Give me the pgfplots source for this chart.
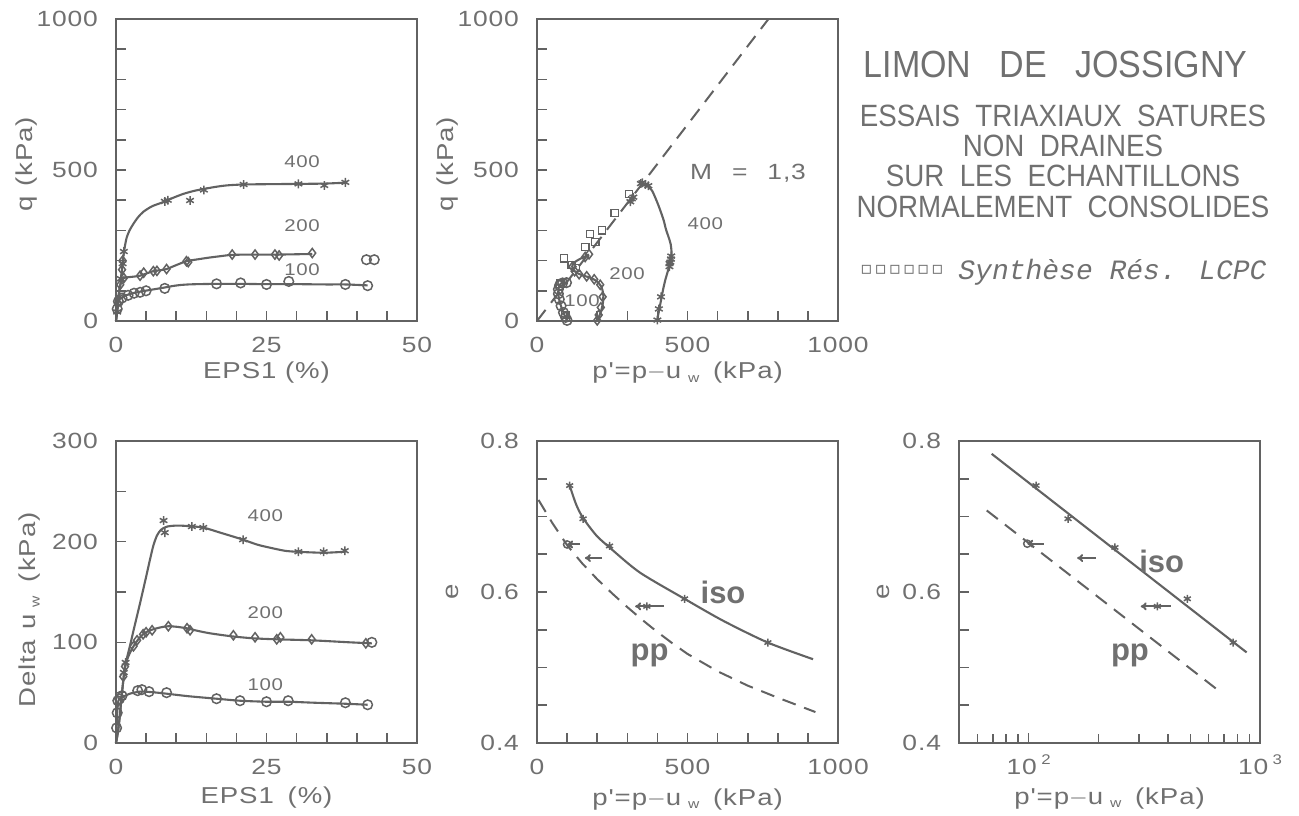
\documentclass[border=0pt]{standalone}
\usepackage{fontspec}
\setmainfont{Liberation Sans}
\usepackage{pgfplots}
\pgfplotsset{compat=1.18}
\usetikzlibrary{arrows.meta}
\newfontfamily\axf[FakeStretch=1.2,LetterSpace=4]{Liberation Sans}
\newfontfamily\titf[FakeStretch=0.9]{Liberation Sans}
\newfontfamily\monof{Liberation Mono}
\newfontfamily\dejavu{DejaVu Sans}
\definecolor{gcol}{RGB}{98,98,98}
\definecolor{tcol}{RGB}{112,112,112}
\newcommand{\uw}{u\hspace{0.3em}\raisebox{-0.3ex}{\fontsize{6.5}{7}\selectfont w}}
\newcommand{\tickfont}{\axf\fontsize{11}{12}\selectfont}
\newcommand{\labfont}{\axf\fontsize{11.5}{13}\selectfont}
\newcommand{\numfont}{\axf\fontsize{8.5}{10}\selectfont}
\newcommand{\bigbf}{\bfseries\fontsize{15.5}{17}\selectfont}
\newcommand{\plab}{p'=p$-$\uw\hspace{0.6em}(kPa)}
\tikzset{lbl/.style={text=tcol, font=\numfont}}
\pgfplotsset{
  panel/.style={
    scale only axis, width=150.5pt, height=151pt,
    axis line style={gcol,line width=1pt},
    tick style={gcol,line width=0.8pt},
    major tick length=5pt, minor tick length=4.5pt,
    tick align=inside, xtick pos=bottom, ytick pos=left,
    xticklabel style={anchor=base, yshift=-15.75pt, text=tcol, font=\tickfont},
    yticklabel style={anchor=east, xshift=-5.5pt, text=tcol, font=\tickfont},
    label style={text=tcol, font=\labfont},
    xlabel style={at={(axis description cs:0.5,-0.172)}, anchor=center},
    ylabel style={at={(axis description cs:-0.296,0.5)}, anchor=center},
    clip=false,
  },
  ln/.style={gcol, line width=1.05pt, smooth, tension=0.45, no marks},
  m400/.style={gcol, only marks, mark=asterisk, mark size=2.2pt, mark options={line width=0.75pt}},
  m200/.style={gcol, only marks, mark=diamond, mark size=2.3pt, mark options={line width=0.75pt}},
  m100/.style={gcol, only marks, mark=o, mark size=2.4pt, mark options={line width=0.75pt}},
  msq/.style={gcol, only marks, mark=square, mark size=1.8pt, mark options={line width=0.6pt}},
  dsh/.style={gcol, line width=1pt, dash pattern=on 7pt off 4.5pt, no marks},
  arr/.style={gcol, line width=1pt, -{To[length=3pt,width=4pt]}, no marks},
}
\begin{document}
\begin{tikzpicture}
\useasboundingbox (0,0) rectangle (649.5pt,407.5pt);

% ---------- Panel 1 : q vs EPS1 ----------
\begin{axis}[panel, at={(58pt,247pt)}, anchor=south west,
  xmin=0, xmax=50, ymin=0, ymax=1000,
  xtick={0,5,...,50}, xticklabels={0,,,,,25,,,,,50},
  ytick={0,100,...,1000}, yticklabels={0,,,,,500,,,,,1000},
  xlabel={EPS1 (\%)}, ylabel={q\hspace{0.4em}(kPa)},
  ylabel style={at={(axis description cs:-0.296,0.52)}}]
\addplot[ln] coordinates {(0,0)(0.2,30)(0.4,60)(0.6,100)(0.8,130)(1.0,170)(1.2,212)(1.5,250)(1.8,278)(2.3,302)(2.9,322)(3.6,342)(4.5,361)(6,380)(7.9,394)(9.5,408)(11.2,421)(13,431)(14.8,438)(16.5,444)(18.4,449)(21.1,452)(25,453)(30.3,454)(34.6,455)(38.1,458)};
\addplot[m400] coordinates {(0.2,30)(0.5,80)(0.8,140)(1.1,190)(1.3,230)(8.1,396)(8.6,400)(12.3,399)(14.6,434)(21.2,452)(30.3,454)(34.6,449)(38.1,459)};
\addplot[ln] coordinates {(0,0)(0.2,40)(0.4,80)(0.6,110)(0.9,132)(1.3,142)(2,145)(3,147)(4,150)(5,157)(6.2,165)(7.3,168)(8.4,172)(10,185)(11.7,198)(13.5,204)(15.5,210)(17.5,215)(19.3,219)(23.1,220)(27,220)(32.6,222)};
\addplot[m200] coordinates {(0.3,60)(0.7,120)(1.0,170)(1.1,200)(1.3,142)(4,150)(4.6,160)(6.2,165)(6.8,166)(8.4,172)(11.7,198)(12,195)(19.3,220)(23.1,220)(26.4,220)(27.1,217)(32.6,225)};
\addplot[ln] coordinates {(0,0)(0.1,20)(0.2,40)(0.3,58)(0.5,70)(1,78)(1.8,86)(2.8,92)(4,97)(6,104)(8.1,111)(9.5,116)(10.6,119)(12,121)(13.5,122)(16.7,123)(20.7,123)(25,122)(30,122)(35,121)(38.1,121)(41.8,118)};
\addplot[m100] coordinates {(0.2,40)(0.4,65)(1,76)(2,85)(3,92)(4,95)(5,100)(8.1,108)(16.7,123)(20.7,126)(25,121)(28.7,131)(38.1,121)(41.8,117)(41.6,203)(42.9,203)};
\node[lbl] at (axis cs:30.9,526) {400};
\node[lbl] at (axis cs:30.9,316) {200};
\node[lbl] at (axis cs:30.9,170) {100};
\end{axis}

% ---------- Panel 2 : q vs p' ----------
\begin{axis}[panel, at={(268.5pt,247pt)}, anchor=south west,
  xmin=0, xmax=1000, ymin=0, ymax=1000,
  xtick={0,100,...,1000}, xticklabels={0,,,,,500,,,,,1000},
  ytick={0,100,...,1000}, yticklabels={0,,,,,500,,,,,1000},
  xlabel={\plab}, ylabel={q\hspace{0.4em}(kPa)},
  ylabel style={at={(axis description cs:-0.296,0.52)}}]
\addplot[dsh] coordinates {(0,0)(769,1000)};
\addplot[ln] coordinates {(400,0)(404,30)(410,58)(418,100)(426,135)(436,170)(443,201)(447,225)(444,255)(437,278)(428,305)(421,333)(410,365)(399,394)(382,432)(365,449)(350,456)(340,455)};
\addplot[m400] coordinates {(400,3)(405,40)(412,80)(440,180)(443,195)(445,205)(446,215)(440,190)(360,452)(350,458)(345,455)(370,448)(310,395)(315,405)(320,410)};
\addplot[ln] coordinates {(200,0)(212,30)(219,60)(220,90)(213,115)(198,132)(178,143)(155,150)(135,158)(122,168)(117,180)(122,192)(138,203)(158,213)(173,220)};
\addplot[m200] coordinates {(200,2)(205,20)(212,45)(218,80)(210,120)(190,138)(165,148)(140,155)(125,165)(118,180)(160,212)(173,221)};
\addplot[ln] coordinates {(100,0)(92,18)(83,40)(76,62)(71,85)(71,105)(76,120)(86,128)(98,127)};
\addplot[m100] coordinates {(100,2)(95,12)(88,28)(80,50)(74,72)(71,90)(71,105)(75,118)(85,126)(98,127)};
\addplot[msq] coordinates {(94,20)(78,124)(89,207)(115,185)(130,175)(161,246)(177,289)(194,261)(216,300)(258,357)(305,421)};
\node[lbl] at (axis cs:559,322) {400};
\node[lbl] at (axis cs:299,157) {200};
\node[lbl] at (axis cs:150,66) {100};
\node[text=tcol, font=\tickfont] at (axis cs:701,488) {M\hspace{10pt}=\hspace{10pt}1,3};
\end{axis}

% ---------- Title block ----------
\node[anchor=base, inner sep=0, text=tcol, font=\titf\fontsize{18.9}{20}\selectfont] at (527.75pt,368.5pt) {LIMON\hspace{0.75em}DE\hspace{0.75em}JOSSIGNY};
\node[anchor=base, inner sep=0, text=tcol, font=\titf\fontsize{15.4}{16}\selectfont] at (531.5pt,344pt) {ESSAIS\hspace{0.5em}TRIAXIAUX\hspace{0.5em}SATURES};
\node[anchor=base, inner sep=0, text=tcol, font=\titf\fontsize{15.4}{16}\selectfont] at (531.5pt,329pt) {NON\hspace{0.5em}DRAINES};
\node[anchor=base, inner sep=0, text=tcol, font=\titf\fontsize{15.4}{16}\selectfont] at (531.5pt,314pt) {SUR\hspace{0.5em}LES\hspace{0.5em}ECHANTILLONS};
\node[anchor=base, inner sep=0, text=tcol, font=\titf\fontsize{15.4}{16}\selectfont] at (531.5pt,298.5pt) {NORMALEMENT\hspace{0.5em}CONSOLIDES};
\node[anchor=west, inner sep=0, text=tcol, font=\dejavu\fontsize{9}{10}\selectfont] at (429.5pt,272.5pt) {\makebox[7.1pt]{▫}\makebox[7.1pt]{▫}\makebox[7.1pt]{▫}\makebox[7.1pt]{▫}\makebox[7.1pt]{▫}\makebox[7.1pt]{▫}};
\node[anchor=base west, inner sep=0, text=tcol, font=\monof\itshape\fontsize{14}{16}\selectfont] at (479pt,267.5pt) {Synthèse Rés. LCPC};

% ---------- Panel 4 : Delta u_w vs EPS1 ----------
\begin{axis}[panel, at={(58pt,36pt)}, anchor=south west,
  xmin=0, xmax=50, ymin=0, ymax=300,
  xtick={0,5,...,50}, xticklabels={0,,,,,25,,,,,50},
  ytick={0,50,...,300}, yticklabels={0,,100,,200,,300},
  xlabel={EPS1\hspace{0.6em}(\%)}, ylabel={Delta\hspace{0.45em}\uw\hspace{0.6em}(kPa)},
  xlabel style={at={(axis description cs:0.5,-0.179)}},
  ylabel style={at={(axis description cs:-0.286,0.44)}}]
\addplot[ln] coordinates {(0,0)(0.3,10)(0.6,25)(1,50)(1.5,76)(2.3,96)(3,114)(4,139)(5,165)(5.6,181)(6.2,196)(6.8,206)(7.5,212)(8.5,215)(10.1,216)(12,215.5)(14.5,214)(17.3,209)(19.5,205)(21.1,202)(23.5,197)(25.6,194)(28,191)(30,190)(34.5,189)(38,190)};
\addplot[m400] coordinates {(1.3,70)(1.6,80)(7.9,221)(8.1,209)(12.6,215)(14.5,214)(21.1,202)(30.3,190)(34.5,190)(38,191)};
\addplot[ln] coordinates {(0,0)(0.3,10)(0.6,25)(1,50)(1.5,76)(2.2,88)(2.9,96)(3.7,103)(4.5,108)(5.3,111)(6.2,113)(7.5,115)(8.7,116)(10,115.5)(11.7,114)(13.5,111.5)(15.6,109)(19.2,106)(22.8,104)(26.7,103)(32.5,102)(38.9,100)(42.5,99)};
\addplot[m200] coordinates {(1.2,66)(1.5,76)(2.9,96)(3.5,102)(4.5,108)(5,110)(6,112)(8.7,116)(11.8,114)(12.3,112)(19.5,107)(23.1,105)(26.7,103)(27.3,105)(32.5,103)(41.5,99)};
\addplot[m100] coordinates {(42.5,100)};
\addplot[ln] coordinates {(0,0)(0.1,15)(0.2,30)(0.4,42)(0.8,45)(1.2,46)(2.3,49)(4,51)(6,50.5)(8.4,49)(12,46.5)(16.7,44)(20.6,42)(25,41)(28.6,41)(33,40)(38.1,39)(41.8,38)};
\addplot[m100] coordinates {(0.1,15)(0.2,30)(0.3,42)(0.6,44)(1.0,47)(3.6,52)(4.3,53)(5.5,51)(8.4,50)(16.7,44)(20.6,42)(25,41)(28.6,42)(38.1,40)(41.8,38)};
\node[lbl] at (axis cs:24.8,226) {400};
\node[lbl] at (axis cs:24.8,129) {200};
\node[lbl] at (axis cs:24.8,58) {100};
\end{axis}

% ---------- Panel 5 : e vs p' (linear) ----------
\begin{axis}[panel, at={(268.5pt,36pt)}, anchor=south west,
  xmin=0, xmax=1000, ymin=0.4, ymax=0.8,
  xtick={0,100,...,1000}, xticklabels={0,,,,,500,,,,,1000},
  ytick={0.4,0.45,0.5,0.55,0.6,0.65,0.7,0.75,0.8}, yticklabels={0.4,,,,0.6,,,,0.8},
  xlabel={\plab}, ylabel={e},
  xlabel style={at={(axis description cs:0.5,-0.186)}},
  ylabel style={at={(axis description cs:-0.28,0.5)}}]
\addplot[ln] coordinates {(108.5,0.741)(130,0.716)(153,0.698)(197,0.675)(241,0.659)(341,0.626)(490,0.591)(618,0.562)(767,0.533)(917,0.511)};
\addplot[m400, mark size=2pt] coordinates {(108.5,0.741)(153,0.697)(241,0.661)(490,0.591)(767,0.533)};
\addplot[dsh] coordinates {(5,0.722)(50,0.692)(100,0.662)(150,0.638)(200,0.617)(250,0.598)(300,0.580)(350,0.563)(400,0.547)(450,0.532)(500,0.518)(600,0.495)(700,0.476)(800,0.460)(925,0.441)};
\addplot[arr] coordinates {(143,0.663)(100,0.663)};
\addplot[m100, mark size=1.8pt] coordinates {(100,0.663)};
\addplot[arr] coordinates {(216,0.645)(159,0.645)};
\addplot[arr] coordinates {(422,0.581)(326,0.581)};
\addplot[m400, mark size=2pt] coordinates {(365,0.581)};
\node[text=tcol, font=\bigbf] at (axis cs:618,0.600) {iso};
\node[text=tcol, font=\bigbf] at (axis cs:374,0.516) {pp};
\end{axis}

% ---------- Panel 6 : e vs p' (log) ----------
\begin{axis}[panel, at={(479.5pt,36pt)}, anchor=south west,
  xmode=log, xmin=50, xmax=1000, ymin=0.4, ymax=0.8,
  xtick={100,1000}, xticklabels={10\hspace{0.2em}\raisebox{0.9ex}{\fontsize{7}{8}\selectfont 2},10\hspace{0.2em}\raisebox{0.9ex}{\fontsize{7}{8}\selectfont 3}},
  minor xtick={60,70,80,90,200,300,400,500,600,700,800,900},
  ytick={0.4,0.45,0.5,0.55,0.6,0.65,0.7,0.75,0.8}, yticklabels={0.4,,,,0.6,,,,0.8},
  xlabel={\plab}, ylabel={e},
  xlabel style={at={(axis description cs:0.5,-0.183)}},
  ylabel style={at={(axis description cs:-0.25,0.5)}}]
\addplot[gcol, line width=1.05pt, no marks] coordinates {(69.2,0.783)(875,0.520)};
\addplot[m400, mark size=2pt] coordinates {(107.6,0.741)(148,0.697)(236,0.659)(485,0.591)(766,0.533)};
\addplot[dsh] coordinates {(65.9,0.708)(671,0.468)};
\addplot[arr] coordinates {(116,0.664)(98.6,0.664)};
\addplot[m100, mark size=1.8pt] coordinates {(98.6,0.664)};
\addplot[arr] coordinates {(195,0.645)(162,0.645)};
\addplot[arr] coordinates {(411,0.581)(305,0.581)};
\addplot[m400, mark size=2pt] coordinates {(360,0.581)};
\node[text=tcol, font=\bigbf] at (axis cs:376,0.641) {iso};
\node[text=tcol, font=\bigbf] at (axis cs:274,0.516) {pp};
\end{axis}
\end{tikzpicture}
\end{document}
